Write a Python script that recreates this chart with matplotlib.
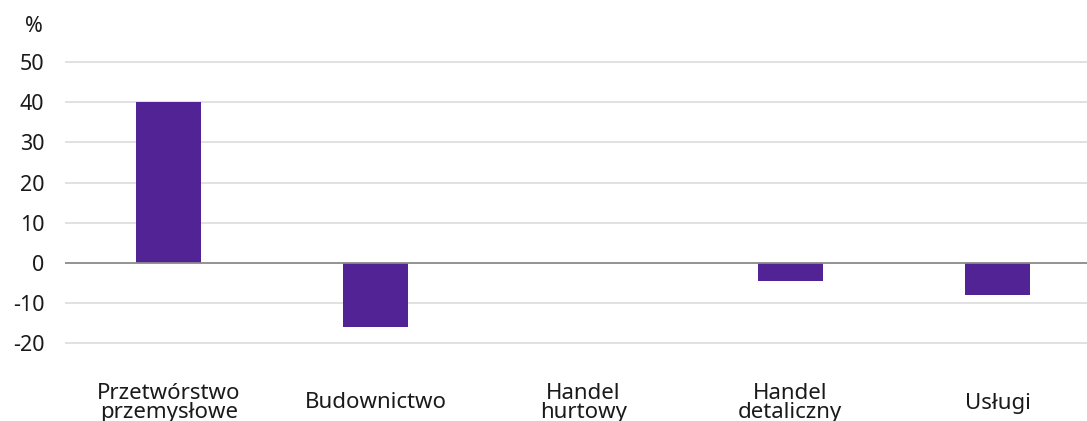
import matplotlib.pyplot as plt
import matplotlib.transforms as mtransforms
import numpy as np

categories = ["Przetwórstwo\nprzemysłowe", "Budownictwo", "Handel\nhurtowy",
              "Handel\ndetaliczny", "Usługi"]
values = [40.0, -16.0, 0.0, -4.5, -8.0]
yticks = [-20, -10, 0, 10, 20, 30, 40, 50]

W, H = 1087, 421
plt.rcParams['font.family'] = ['Noto Sans', 'DejaVu Sans']

fig = plt.figure(figsize=(W / 100, H / 100), dpi=100)

# axes geometry in pixels
left_px, right_px = 65, 1087
zero_px, px_per_unit = 263, 4.02
ymin, ymax = -25, 55
bottom_px = zero_px - ymin * px_per_unit
top_px = zero_px - ymax * px_per_unit
ax = fig.add_axes([left_px / W, (H - bottom_px) / H,
                   (right_px - left_px) / W, (bottom_px - top_px) / H])

band = 207.25
x = np.arange(len(categories))
ax.bar(x, values, width=65 / band, color="#512394", zorder=3)

ax.set_xlim(-0.5, -0.5 + (right_px - left_px) / band)
ax.set_ylim(ymin, ymax)
ax.set_yticks(yticks)
ax.set_yticklabels([str(v) for v in yticks], fontsize=15.5, color="#1a1a1a")
ax.tick_params(axis='y', length=0, pad=15)
ax.set_xticks([])

for y in yticks:
    if y == 0:
        ax.axhline(y, color="#8a8a8a", lw=1.3, zorder=4)
    else:
        ax.axhline(y, color="#dedede", lw=1.3, zorder=1)

for s in ax.spines.values():
    s.set_visible(False)

trans = mtransforms.blended_transform_factory(ax.transData, fig.transFigure)
for xi, lab in zip(x, categories):
    ax.text(xi, (H - 403) / H, lab, transform=trans, ha="center", va="center",
            multialignment="center", fontsize=16, color="#1a1a1a",
            linespacing=0.9, clip_on=False)

fig.text(43 / W, (H - 27) / H, "%", ha="right", va="center",
         fontsize=15.5, color="#1a1a1a")

fig.savefig("out.png", dpi=100)
